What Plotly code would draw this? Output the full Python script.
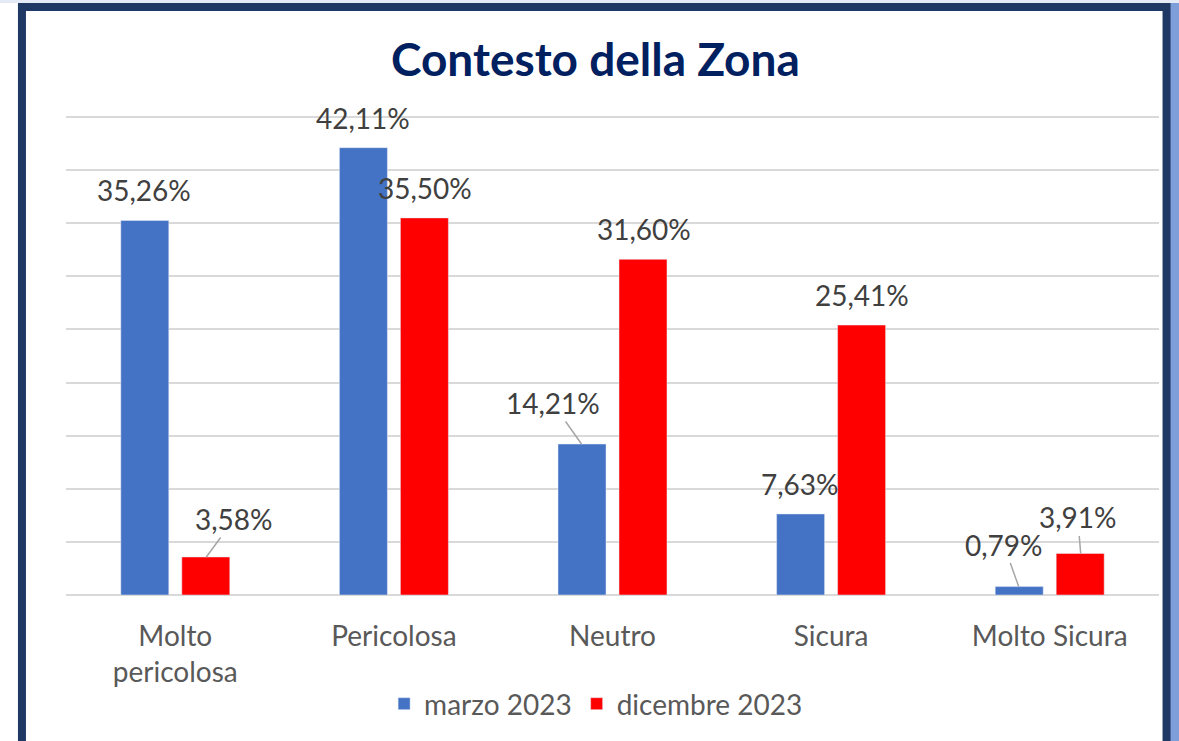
import plotly.graph_objects as go

categorie = ["Molto<br>pericolosa", "Pericolosa", "Neutro", "Sicura", "Molto Sicura"]
marzo_2023 = [35.26, 42.11, 14.21, 7.63, 0.79]
dicembre_2023 = [3.58, 35.50, 31.60, 25.41, 3.91]
serie = ["marzo 2023", "dicembre 2023"]

colori = ["#4472C4", "#FF0000"]
# spostamento etichette (dx, dy in px) rispetto alla cima della barra; linea guida se spostata
spost = {
    (0, 2): (-29, -41, True),
    (1, 0): (28, -38, True),
    (0, 4): (-15, -42, True),
    (1, 4): (-3, -36, True),
}

fig = go.Figure()
for i, (nome, valori) in enumerate(zip(serie, [marzo_2023, dicembre_2023])):
    fig.add_trace(go.Bar(x=categorie, y=valori, name=nome, marker_color=colori[i],
                         hoverinfo="skip"))

def fmt(v):
    return f"{v:.2f}".replace(".", ",") + "%"

for i, valori in enumerate([marzo_2023, dicembre_2023]):
    xs = -31 if i == 0 else 31
    for j, v in enumerate(valori):
        dx, dy, linea = spost.get((i, j), (0, -30, False))
        fig.add_annotation(x=categorie[j], y=v, xref="x", yref="y", text=fmt(v),
                           xshift=xs, showarrow=True, ax=dx, ay=dy, arrowhead=0,
                           arrowwidth=1.5, standoff=0,
                           arrowcolor="#A6A6A6" if linea else "rgba(0,0,0,0)",
                           font=dict(size=28, color="#404040"))

# cornice e sfondo
fig.add_shape(type="rect", xref="paper", yref="paper", x0=1.0, x1=1.03, y0=-0.4, y1=1.3,
              fillcolor="#7E9ED9", line_width=0, layer="below")
fig.add_shape(type="rect", xref="paper", yref="paper", x0=-0.1, x1=1.03, y0=1.2308, y1=1.3,
              fillcolor="#E4EBF7", line_width=0, layer="below")
fig.add_shape(type="rect", xref="paper", yref="paper", x0=-0.0403, x1=1.0069, y0=-0.36, y1=1.2225,
              line=dict(color="#1F3864", width=8), fillcolor="white", layer="below")

fig.update_layout(
    width=1179, height=741,
    margin=dict(l=66, r=20, t=114, b=146),
    paper_bgcolor="white", plot_bgcolor="rgba(0,0,0,0)",
    font=dict(family="Lato, Calibri, sans-serif", color="#595959"),
    title=dict(text="<b>Contesto della Zona</b>", x=0.505, xanchor="center",
               y=0.919, yanchor="middle", font=dict(size=46, color="#002060")),
    barmode="group", bargap=0.442, bargroupgap=0.213,
    legend=dict(orientation="h", x=0.485, xanchor="center", y=-0.2266, yanchor="middle",
                font=dict(size=28, color="#595959"), bgcolor="rgba(0,0,0,0)"),
    showlegend=True,
)
fig.update_yaxes(range=[0, 45.28], dtick=5, showticklabels=False, gridcolor="#D9D9D9",
                 gridwidth=1.5, zeroline=True, zerolinecolor="#D9D9D9", zerolinewidth=1.5)
fig.update_xaxes(tickfont=dict(size=28, color="#595959"), ticks="", showline=False,
                 ticklabelstandoff=22)

fig.write_html("out.html", config={"displayModeBar": False},
               post_script="document.body.style.margin='0';")
